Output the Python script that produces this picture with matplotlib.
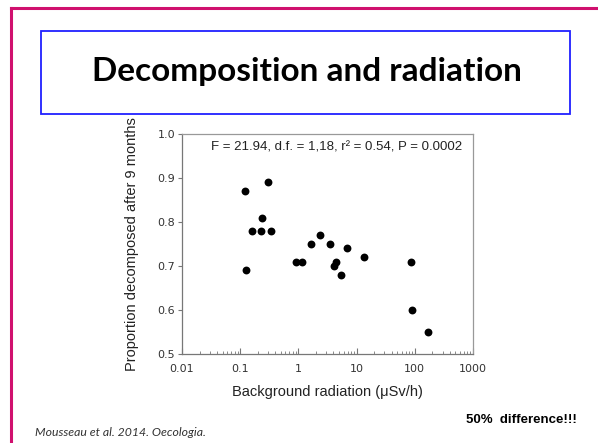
import matplotlib
matplotlib.use("Agg")
import matplotlib.pyplot as plt
from matplotlib.patches import Rectangle
from matplotlib.lines import Line2D
from matplotlib.ticker import LogLocator, FixedLocator, FixedFormatter, NullFormatter

# Data
radiation = [0.12, 0.128, 0.158, 0.229, 0.24, 0.30, 0.34, 0.92, 1.16, 1.63,
             2.39, 3.54, 4.15, 4.49, 5.4, 6.76, 13.2, 84.7, 89, 168]
proportion = [0.87, 0.69, 0.78, 0.78, 0.81, 0.89, 0.78, 0.71, 0.71, 0.75,
              0.77, 0.75, 0.70, 0.71, 0.68, 0.74, 0.72, 0.71, 0.60, 0.55]
x_ticks = [0.01, 0.1, 1, 10, 100, 1000]
x_tick_labels = ["0.01", "0.1", "1", "10", "100", "1000"]
y_ticks = [0.5, 0.6, 0.7, 0.8, 0.9, 1.0]
y_tick_labels = ["0.5", "0.6", "0.7", "0.8", "0.9", "1.0"]

W, H = 598, 443
fig = plt.figure(figsize=(W / 100, H / 100), dpi=100)
fig.patch.set_facecolor("white")

def fx(px):
    return px / W

def fy(py):
    return 1 - py / H

# slide border (magenta) left and top
fig.add_artist(Line2D([fx(11), fx(11)], [fy(8), fy(443)], color="#d0106e", lw=2.2))
fig.add_artist(Line2D([fx(11), fx(598)], [fy(8), fy(8)], color="#d0106e", lw=2.2))

# title box
fig.add_artist(Rectangle((fx(41), fy(114)), fx(570) - fx(41), fy(31) - fy(114),
                         fill=False, edgecolor="#2020ff", lw=1.3))
fig.text(fx(307), fy(71), "Decomposition and radiation", ha="center", va="center",
         fontsize=24, fontweight="bold", family="Lato", color="black")

# axes
ax = fig.add_axes([fx(182), fy(354), fx(473) - fx(182), fy(134) - fy(354)])
ax.scatter(radiation, proportion, s=32, color="black", zorder=3, linewidths=0)
ax.set_xscale("log")
ax.set_xlim(0.01, 1000)
ax.set_ylim(0.5, 1.0)
ax.xaxis.set_major_locator(FixedLocator(x_ticks))
ax.xaxis.set_major_formatter(FixedFormatter(x_tick_labels))
ax.xaxis.set_minor_locator(LogLocator(base=10, subs=range(2, 10)))
ax.xaxis.set_minor_formatter(NullFormatter())
ax.yaxis.set_major_locator(FixedLocator(y_ticks))
ax.yaxis.set_major_formatter(FixedFormatter(y_tick_labels))

for s in ax.spines.values():
    s.set_color("#999999")
    s.set_linewidth(0.9)
ax.spines["left"].set_color("#777777")
ax.spines["bottom"].set_color("#777777")

ax.tick_params(axis="x", which="major", direction="in", length=4, width=0.8,
               color="#777777", labelsize=8, labelcolor="#333333", pad=7)
ax.tick_params(axis="x", which="minor", direction="in", length=2, width=0.6,
               color="#777777")
ax.tick_params(axis="y", which="major", direction="out", length=3, width=0.8,
               color="#777777", labelsize=8, labelcolor="#333333", pad=2)

ax.set_xlabel("Background radiation (\u03bcSv/h)", fontsize=10.5, color="#222222",
              family="Liberation Sans", labelpad=8)
ax.set_ylabel("Proportion decomposed after 9 months", fontsize=10.5, color="#222222",
              family="Liberation Sans", labelpad=13)

ax.text(0.53, 0.94, "F = 21.94, d.f. = 1,18, r\u00b2 = 0.54, P = 0.0002",
        transform=ax.transAxes, ha="center", va="center", fontsize=9.5,
        color="#222222", family="Liberation Sans")

fig.text(fx(35), fy(432), "Mousseau et al. 2014. Oecologia.", ha="left", va="center",
         fontsize=8.8, style="italic", family="Lato", color="#333333")
fig.text(fx(577), fy(420), "50%  difference!!!", ha="right", va="center",
         fontsize=9.5, fontweight="bold", family="Liberation Sans", color="black")

fig.savefig("out.png", dpi=100)
